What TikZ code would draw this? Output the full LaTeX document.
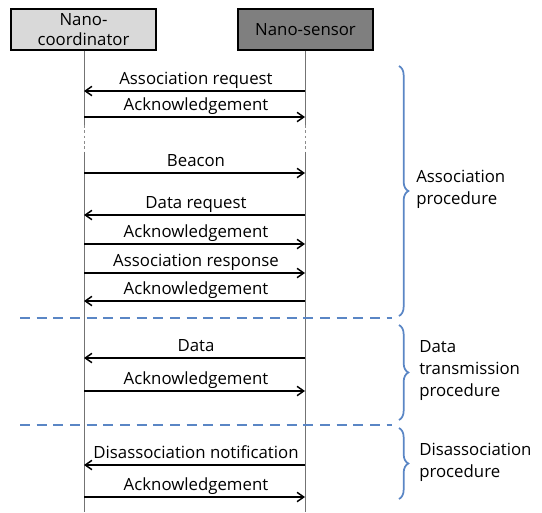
\documentclass[tikz,border=0pt]{standalone}
\usepackage{fontspec}
\setmainfont{Open Sans}
\usetikzlibrary{arrows.meta,decorations.pathreplacing}
\definecolor{lightbox}{HTML}{D9D9D9}
\definecolor{darkbox}{HTML}{7F7F7F}
\definecolor{procblue}{HTML}{5A86C5}
\tikzset{
  actor/.style={draw=black, line width=0.9pt, minimum width=#1, minimum height=30.75pt, align=center, font=\fontsize{12.6}{13}\selectfont, inner sep=0pt},
  life/.style={draw=black!55, line width=0.75pt},
  lifedash/.style={draw=black!45, line width=0.6pt, dash pattern=on 2pt off 2pt},
  msg/.style={draw=black, line width=1.1pt, -{Straight Barb[length=5pt,width=7pt,line width=1.1pt]}},
  msglabel/.style={font=\fontsize{12.6}{13}\selectfont, inner sep=0pt, anchor=base},
  sep/.style={draw=procblue, line width=1.6pt, dash pattern=on 7.5pt off 5pt},
  pbrace/.style={draw=procblue, line width=1.3pt, decorate, decoration={brace, amplitude=7pt}},
  proclabel/.style={font=\fontsize{12.6}{16.5}\selectfont, align=left, anchor=west, inner sep=0pt},
}
\begin{document}
\begin{tikzpicture}[x=0.75pt,y=-0.75pt]
\useasboundingbox (0,0) rectangle (542,512);
% actors
\node[actor=108.75pt, fill=lightbox, font=\fontsize{12.6}{15.5}\selectfont] (coord) at (83.5,29.5) {Nano-\\coordinator};
\node[actor=101.25pt, fill=darkbox] (sensor) at (305.5,29.5) {Nano-sensor};
% lifelines
\coordinate (cA) at (84,125); \coordinate (cB) at (84,152); \coordinate (cEnd) at (84,512);
\coordinate (sA) at (305,125); \coordinate (sB) at (305,152); \coordinate (sEnd) at (305,512);
\draw[life] (coord.south -| cA) -- (cA);
\draw[lifedash] (cA) -- (cB);
\draw[life] (cB) -- (cEnd);
\draw[life] (sensor.south -| sA) -- (sA);
\draw[lifedash] (sA) -- (sB);
\draw[life] (sB) -- (sEnd);
% messages
\foreach \y/\dir/\txt [count=\i] in {
  91/l/Association request,
  117/r/Acknowledgement,
  173/r/Beacon,
  215/l/Data request,
  244/r/Acknowledgement,
  273/r/Association response,
  301/l/Acknowledgement,
  358/l/Data,
  391/r/Acknowledgement,
  465/l/Disassociation notification,
  497/r/Acknowledgement}{
  \coordinate (L\i) at (84,\y);
  \coordinate (R\i) at (305,\y);
  \if l\dir
    \draw[msg] (R\i) -- (L\i);
  \else
    \draw[msg] (L\i) -- (R\i);
  \fi
  \node[msglabel] (t\i) at (196,\y-7) {\txt};
}
% separators
\coordinate (s1a) at (20,318); \coordinate (s1b) at (392,318);
\coordinate (s2a) at (20,425); \coordinate (s2b) at (392,425);
\draw[sep] (s1a) -- (s1b);
\draw[sep] (s2a) -- (s2b);
% braces
\coordinate (b1a) at (399,66); \coordinate (b1b) at (399,316);
\coordinate (b2a) at (399,325); \coordinate (b2b) at (399,420);
\coordinate (b3a) at (399,428); \coordinate (b3b) at (399,499);
\draw[pbrace] (b1a) -- (b1b);
\draw[pbrace] (b2a) -- (b2b);
\draw[pbrace] (b3a) -- (b3b);
\node[proclabel] (p1) at (416,189) {Association\\procedure};
\node[proclabel] (p2) at (419,371) {Data\\transmission\\procedure};
\node[proclabel] (p3) at (419,462) {Disassociation\\procedure};
\end{tikzpicture}
\end{document}
